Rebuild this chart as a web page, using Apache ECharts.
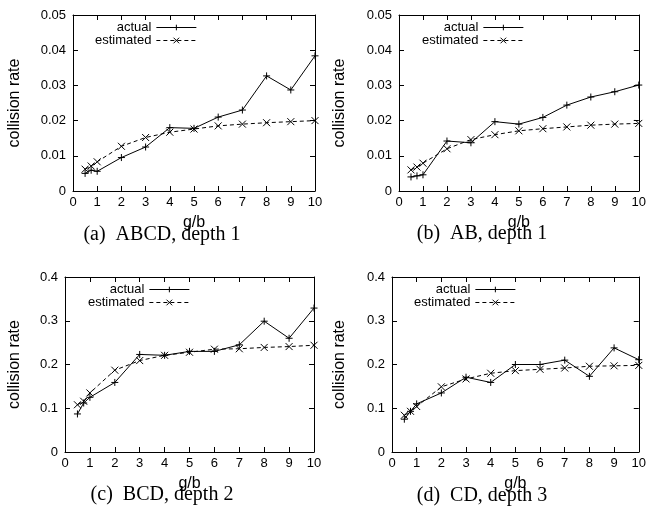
<!DOCTYPE html>
<html>
<head>
<meta charset="utf-8">
<script src="https://cdn.jsdelivr.net/npm/echarts@6/dist/echarts.min.js"></script>
<style>
  html, body { margin: 0; padding: 0; background: #fff; }
  #chart { width: 649px; height: 510px; }
</style>
</head>
<body>
<div id="chart"></div>
<script>
// x values (g/b)
var gb = [0.5, 0.75, 1, 2, 3, 4, 5, 6, 7, 8, 9, 10];

// (a) ABCD, depth 1
var abcdActual    = [0.0050, 0.0059, 0.0056, 0.0095, 0.0125, 0.0180, 0.0178, 0.0210, 0.0230, 0.0327, 0.0287, 0.0384];
var abcdEstimated = [0.0062, 0.0071, 0.0083, 0.0127, 0.0152, 0.0167, 0.0176, 0.0185, 0.0190, 0.0194, 0.0197, 0.0200];
// (b) AB, depth 1
var abActual      = [0.0040, 0.0043, 0.0046, 0.0142, 0.0137, 0.0197, 0.0190, 0.0209, 0.0244, 0.0267, 0.0282, 0.0301];
var abEstimated   = [0.0060, 0.0068, 0.0079, 0.0120, 0.0146, 0.0160, 0.0171, 0.0177, 0.0182, 0.0187, 0.0190, 0.0192];
// (c) BCD, depth 2
var bcdActual     = [0.087, 0.112, 0.125, 0.159, 0.223, 0.221, 0.230, 0.230, 0.245, 0.299, 0.260, 0.329];
var bcdEstimated  = [0.108, 0.116, 0.135, 0.187, 0.209, 0.221, 0.228, 0.235, 0.236, 0.239, 0.241, 0.244];
// (d) CD, depth 3
var cdActual      = [0.075, 0.093, 0.110, 0.135, 0.171, 0.159, 0.200, 0.200, 0.210, 0.173, 0.238, 0.211];
var cdEstimated   = [0.084, 0.093, 0.104, 0.149, 0.167, 0.180, 0.186, 0.189, 0.192, 0.196, 0.197, 0.198];

var captions = ['(a)  ABCD, depth 1', '(b)  AB, depth 1', '(c)  BCD, depth 2', '(d)  CD, depth 3'];

var panels = [
    {act: abcdActual, est: abcdEstimated, max: 0.05, step: 0.01},
    {act: abActual,   est: abEstimated,   max: 0.05, step: 0.01},
    {act: bcdActual,  est: bcdEstimated,  max: 0.4,  step: 0.1},
    {act: cdActual,   est: cdEstimated,   max: 0.4,  step: 0.1}
];

// layout bits
var grids = [
    {left: 73,  top: 15,  width: 242, height: 176},
    {left: 399, top: 15,  width: 242, height: 176},
    {left: 65,  top: 277, width: 249, height: 175},
    {left: 392, top: 277, width: 249, height: 175}
];
var yNameGap = [50, 51, 42, 44];
var legendPos = [{left: 90, top: 16}, {left: 417, top: 16}, {left: 83, top: 278}, {left: 409, top: 278}];
var captionPos = [[162, 235], [482, 234], [162, 495], [482, 496]];

var PLUS = 'path://M0,5L10,5M5,0L5,10';
var CROSS = 'path://M0,0L10,10M10,0L0,10';
var sans = 'Liberation Sans';

function zip(xs, ys) {
    return xs.map(function (x, i) { return [x, ys[i]]; });
}

var xAxes = [], yAxes = [], series = [], legends = [], graphics = [];

panels.forEach(function (p, i) {
    var tick = {show: true, inside: true, length: 5, lineStyle: {color: '#000'}};
    var line = {show: true, onZero: false, lineStyle: {color: '#000', width: 1}};
    xAxes.push({
        type: 'value', gridIndex: i, min: 0, max: 10, interval: 1, position: 'bottom',
        name: 'g/b', nameLocation: 'middle', nameGap: 24,
        nameTextStyle: {fontFamily: sans, fontSize: 16, color: '#000'},
        axisLine: line, axisTick: tick, splitLine: {show: false},
        axisLabel: {fontFamily: sans, fontSize: 13, color: '#000', margin: 5}
    });
    xAxes.push({
        type: 'value', gridIndex: i, min: 0, max: 10, interval: 1, position: 'top',
        axisLine: line, axisTick: tick, splitLine: {show: false}, axisLabel: {show: false}
    });
    yAxes.push({
        type: 'value', gridIndex: i, min: 0, max: p.max, interval: p.step, position: 'left',
        name: 'collision rate', nameLocation: 'middle', nameGap: yNameGap[i],
        nameTextStyle: {fontFamily: sans, fontSize: 16, color: '#000'},
        axisLine: line, axisTick: tick, splitLine: {show: false},
        axisLabel: {fontFamily: sans, fontSize: 13, color: '#000', margin: 7}
    });
    yAxes.push({
        type: 'value', gridIndex: i, min: 0, max: p.max, interval: p.step, position: 'right',
        axisLine: line, axisTick: tick, splitLine: {show: false}, axisLabel: {show: false}
    });
    series.push({
        name: 'actual', type: 'line', xAxisIndex: i * 2, yAxisIndex: i * 2,
        data: zip(gb, p.act), symbol: PLUS, symbolSize: 7, animation: false,
        lineStyle: {color: '#000', width: 1},
        itemStyle: {color: '#000', borderColor: '#000', borderWidth: 1}
    });
    series.push({
        name: 'estimated', type: 'line', xAxisIndex: i * 2, yAxisIndex: i * 2,
        data: zip(gb, p.est), symbol: CROSS, symbolSize: 7, animation: false,
        lineStyle: {color: '#000', width: 1, type: [4, 3]},
        itemStyle: {color: '#000', borderColor: '#000', borderWidth: 1}
    });
    legends.push({
        left: legendPos[i].left, top: legendPos[i].top, orient: 'vertical', align: 'right',
        itemWidth: 40, itemHeight: 7, itemGap: 0, selectedMode: false,
        data: ['actual', 'estimated'],
        itemStyle: {borderWidth: 1, borderColor: '#000'},
        lineStyle: {width: 1},
        textStyle: {fontFamily: sans, fontSize: 13, color: '#000'}
    });
    graphics.push({
        type: 'text', x: captionPos[i][0], y: captionPos[i][1],
        style: {
            text: captions[i], font: '20px "Liberation Serif"', fill: '#000',
            align: 'center', verticalAlign: 'middle',
            textAlign: 'center', textVerticalAlign: 'middle'
        }
    });
});

var chart = echarts.init(document.getElementById('chart'));
chart.setOption({
    animation: false,
    backgroundColor: '#fff',
    grid: grids,
    xAxis: xAxes,
    yAxis: yAxes,
    legend: legends,
    series: series,
    graphic: graphics
});
</script>
</body>
</html>
